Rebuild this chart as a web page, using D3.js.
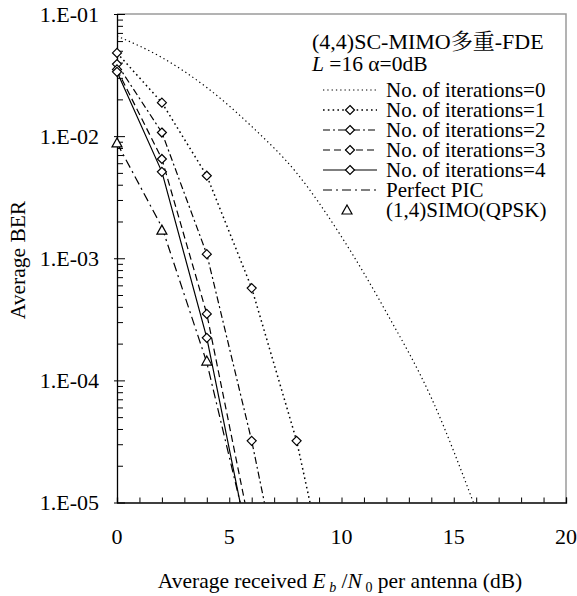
<!DOCTYPE html>
<html>
<head>
<meta charset="utf-8">
<script src="https://cdn.jsdelivr.net/npm/d3@7"></script>
<style>
  body { margin: 0; background: #fff; }
</style>
</head>
<body>
<svg id="chart" width="577" height="596"></svg>
<script>
// Eb/N0 sample points (dB)
const snrDb = [0, 2, 4, 6, 8, 10, 12, 14, 16];

// Average BER per curve, one value per snrDb entry (shorter arrays stop early)
const berIter0 = [0.066, 0.044, 0.025, 0.012, 0.0050, 0.0015, 3.6e-4, 7.2e-5, 8.7e-6];
const berIter1 = [0.048, 0.0188, 0.00474, 5.7e-4, 3.2e-5, 6.5e-7];
const berIter2 = [0.0389, 0.0107, 0.00108, 3.2e-5, 5.2e-7];
const berIter3 = [0.0352, 0.0065, 3.5e-4, 5.3e-6];
const berIter4 = [0.0336, 0.0051, 2.23e-4, 3.4e-6];
const berPerfectPic = [0.0088, 0.0018, 1.4e-4, 4.0e-6];
const berSimo = [0.0088, 0.0017, 1.44e-4];

const seriesNames = [
  "No. of iterations=0",
  "No. of iterations=1",
  "No. of iterations=2",
  "No. of iterations=3",
  "No. of iterations=4",
  "Perfect PIC",
  "(1,4)SIMO(QPSK)"
];

const xTickValues = [0, 5, 10, 15, 20];
const yTickValues = [1e-1, 1e-2, 1e-3, 1e-4, 1e-5];
const yTickLabels = ["1.E-01", "1.E-02", "1.E-03", "1.E-04", "1.E-05"];

const LATIN_FONT = "Liberation Serif";
const CJK_FONT = "Noto Serif CJK JP";

// ---- layout ----
const svg = d3.select("#chart");
const plot = { left: 117, right: 566, top: 14, bottom: 502.5 };

const x = d3.scaleLinear().domain([0, 20]).range([plot.left, plot.right]);
const y = d3.scaleLog().domain([1e-5, 1e-1]).range([plot.bottom, plot.top]);

// series styling
const series = [
  { name: seriesNames[0], values: berIter0, dash: "1.3,3",     width: 1.2, line: true,  smooth: true,  marker: null },
  { name: seriesNames[1], values: berIter1, dash: "1.6,3.2",   width: 1.5, line: true,  smooth: false, marker: "diamond" },
  { name: seriesNames[2], values: berIter2, dash: "7,3,2,3",   width: 1.2, line: true,  smooth: false, marker: "diamond" },
  { name: seriesNames[3], values: berIter3, dash: "7,4",       width: 1.2, line: true,  smooth: false, marker: "diamond" },
  { name: seriesNames[4], values: berIter4, dash: null,        width: 1.2, line: true,  smooth: false, marker: "diamond" },
  { name: seriesNames[5], values: berPerfectPic, dash: "9,4,2,4", width: 1.2, line: true, smooth: false, marker: null },
  { name: seriesNames[6], values: berSimo, dash: null,         width: 1.2, line: false, smooth: false, marker: "triangle" }
];

svg.append("defs").append("clipPath").attr("id", "plot-clip")
  .append("rect")
  .attr("x", plot.left).attr("y", plot.top)
  .attr("width", plot.right - plot.left).attr("height", plot.bottom - plot.top);

// frame: top and right edges in grey
svg.append("path")
  .attr("d", `M${plot.left},${plot.top}H${plot.right}V${plot.bottom}`)
  .attr("fill", "none").attr("stroke", "#9a9a9a").attr("stroke-width", 1.5);

// ---- axes ----
const xAxis = d3.axisBottom(x).ticks(20).tickSize(-5).tickFormat("");
const gx = svg.append("g").attr("transform", `translate(0,${plot.bottom})`).call(xAxis);
gx.select(".domain").attr("stroke", "#000").attr("stroke-width", 1.3);
gx.selectAll(".tick line").attr("stroke", "#000").attr("stroke-width", 1);

const minorY = [];
for (let e = -5; e < -1; e++) for (let m = 2; m <= 9; m++) minorY.push(m * Math.pow(10, e));
const yAxisMinor = d3.axisLeft(y).tickValues(minorY).tickSize(-6).tickFormat("");
const gyMinor = svg.append("g").attr("transform", `translate(${plot.left},0)`).call(yAxisMinor);
gyMinor.select(".domain").remove();
gyMinor.selectAll(".tick line").attr("stroke", "#000");

const yAxisMajor = d3.axisLeft(y).tickValues(yTickValues).tickSizeInner(-8).tickSizeOuter(0).tickFormat("");
const gy = svg.append("g").attr("transform", `translate(${plot.left},0)`).call(yAxisMajor);
gy.select(".domain").attr("stroke", "#000").attr("stroke-width", 1.3);
gy.selectAll(".tick line").attr("stroke", "#000").attr("x1", -3);

// tick labels
svg.append("g").selectAll("text").data(yTickValues).join("text")
  .attr("x", 99).attr("y", d => y(d))
  .attr("dy", "0.35em")
  .attr("text-anchor", "end")
  .attr("font-size", 22)
  .text((d, i) => yTickLabels[i]);

svg.append("g").selectAll("text").data(xTickValues).join("text")
  .attr("x", d => x(d)).attr("y", 544)
  .attr("text-anchor", "middle")
  .attr("font-size", 22)
  .text(d => d);

// axis titles
svg.append("text")
  .attr("transform", "translate(25,260) rotate(-90)")
  .attr("text-anchor", "middle")
  .attr("font-size", 21.5)
  .text("Average BER");

const xt = svg.append("text")
  .attr("x", 340).attr("y", 588)
  .attr("text-anchor", "middle")
  .attr("font-size", 21.5);
xt.append("tspan").text("Average received ");
xt.append("tspan").attr("font-style", "italic").text("E");
xt.append("tspan").attr("font-style", "italic").attr("font-size", 14).attr("dy", 4).text(" b");
xt.append("tspan").attr("dy", -4).text(" /");
xt.append("tspan").attr("font-style", "italic").text("N");
xt.append("tspan").attr("font-size", 14).attr("dy", 4).text(" 0");
xt.append("tspan").attr("dy", -4).text(" per antenna (dB)");

// ---- marker drawing ----
function drawMarker(g, kind, cx, cy) {
  if (kind === "diamond") {
    g.append("path")
      .attr("d", `M${cx},${cy - 4.5}L${cx + 4.5},${cy}L${cx},${cy + 4.5}L${cx - 4.5},${cy}Z`)
      .attr("fill", "#fff").attr("stroke", "#000").attr("stroke-width", 1.2);
  } else if (kind === "triangle") {
    g.append("path")
      .attr("d", `M${cx},${cy - 5}L${cx + 5},${cy + 4}L${cx - 5},${cy + 4}Z`)
      .attr("fill", "#fff").attr("stroke", "#000").attr("stroke-width", 1.2);
  }
}

// ---- curves ----
const lineFor = smooth => d3.line()
  .x((d, i) => x(snrDb[i]))
  .y(d => y(d))
  .curve(smooth ? d3.curveMonotoneX : d3.curveLinear);

const plotG = svg.append("g").attr("clip-path", "url(#plot-clip)");

series.filter(s => s.line).forEach(s => {
  plotG.append("path")
    .attr("d", lineFor(s.smooth)(s.values))
    .attr("fill", "none")
    .attr("stroke", "#000")
    .attr("stroke-width", s.width)
    .attr("stroke-dasharray", s.dash);
});

const markG = svg.append("g");
series.filter(s => s.marker).forEach(s => {
  s.values.forEach((v, i) => {
    if (v >= 1e-5) drawMarker(markG, s.marker, x(snrDb[i]), y(v));
  });
});

// ---- legend ----
const lg = svg.append("g");
const l1 = lg.append("text").attr("x", 312).attr("y", 49).attr("font-size", 22);
l1.append("tspan").text("(4,4)SC-MIMO");
l1.append("tspan").attr("class", "cjk").text("多重");
l1.append("tspan").text("-FDE");
const l2 = lg.append("text").attr("x", 312).attr("y", 71).attr("font-size", 21.5);
l2.append("tspan").attr("font-style", "italic").text("L");
l2.append("tspan").text(" =16 α=0dB");

const rowY = [90, 110, 130, 150, 170, 190, 210];
series.forEach((s, i) => {
  const ry = rowY[i];
  if (s.line) {
    lg.append("line")
      .attr("x1", 323).attr("x2", 377).attr("y1", ry).attr("y2", ry)
      .attr("stroke", "#000").attr("stroke-width", s.width)
      .attr("stroke-dasharray", s.dash);
  }
  if (s.marker) drawMarker(lg, s.marker, s.marker === "triangle" ? 347 : 350, ry);
  lg.append("text").attr("x", 386).attr("y", ry + 7).attr("font-size", 21).text(s.name);
});

// serif typeface on every label, CJK glyphs in a Mincho-style face
svg.selectAll("text").attr("font-family", LATIN_FONT).attr("fill", "#000");
svg.selectAll("tspan.cjk").attr("font-family", CJK_FONT);
</script>
</body>
</html>
